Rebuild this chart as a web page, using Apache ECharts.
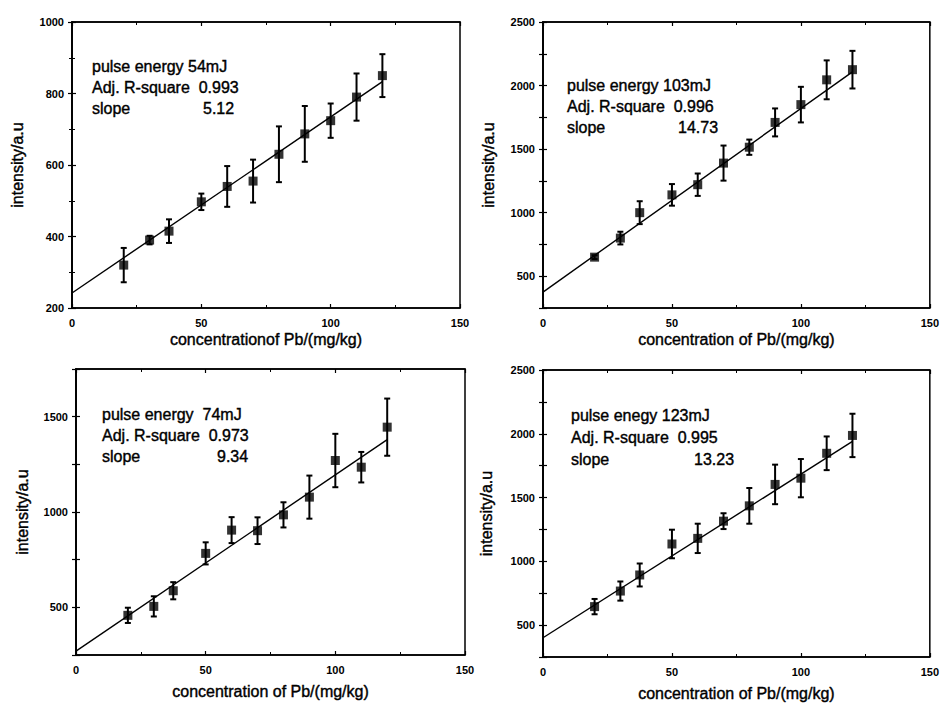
<!DOCTYPE html>
<html>
<head>
<meta charset="utf-8">
<script src="https://cdn.jsdelivr.net/npm/echarts@6/dist/echarts.min.js"></script>
<style>
html,body{margin:0;padding:0;background:#fff;}
#chart{width:942px;height:704px;}
</style>
</head>
<body>
<div id="chart"></div>
<script>
// ---- data ----
const xConc = [20, 30, 37.5, 50, 60, 70, 80, 90, 100, 110, 120];

const int54  = [320, 390, 415, 497, 540, 555, 630, 687, 724, 790, 850];
const err54  = [48, 12, 33, 23, 57, 60, 78, 78, 48, 66, 60];
const fit54  = [242, 833];

const int103 = [650, 800, 1000, 1140, 1220, 1390, 1515, 1710, 1850, 2045, 2125];
const err103 = [15, 50, 90, 85, 88, 138, 60, 110, 140, 153, 148];
const fit103 = [375, 2108];

const int74  = [458, 505, 587, 783, 905, 902, 985, 1078, 1270, 1235, 1445];
const err74  = [40, 53, 45, 58, 68, 70, 66, 113, 140, 80, 150];
const fit74  = [270, 1380];

const int123 = [645, 767, 893, 1136, 1180, 1315, 1435, 1603, 1652, 1847, 1987];
const err123 = [60, 75, 90, 112, 115, 62, 140, 155, 150, 132, 170];
const fit123 = [401, 1940];

const fitX = [0, 120];

const energyLabels = ['pulse energy 54mJ', 'pulse energy 103mJ', 'pulse energy  74mJ', 'pulse enegy 123mJ'];
const r2Labels     = ['Adj. R-square  0.993', 'Adj. R-square  0.996', 'Adj. R-square  0.973', 'Adj. R-square  0.995'];
const slopeLabels  = ['5.12', '14.73', '9.34', '13.23'];
const xTitles = ['concentrationof Pb/(mg/kg)', 'concentration of Pb/(mg/kg)', 'concentration of Pb/(mg/kg)', 'concentration of Pb/(mg/kg)'];
const yTitle = 'intensity/a.u';

// ---- layout ----
const panels = [
  {vals: int54,  errs: err54,  fit: fit54,  grid:{left:72, right:482, top:22,  bottom:396}, ymin:200, ymax:1000, yint:200, ymod:200, minor:true,  ygap:47, xgap:23, txt:{x:92,  y:[66,87,108],   vx:203}},
  {vals: int103, errs: err103, fit: fit103, grid:{left:543, right:10, top:22,  bottom:396}, ymin:250, ymax:2500, yint:250, ymod:500, minor:false, ygap:47, xgap:23, txt:{x:567, y:[85,106,127],  vx:678}},
  {vals: int74,  errs: err74,  fit: fit74,  grid:{left:76, right:477, top:369, bottom:49},  ymin:250, ymax:1750, yint:250, ymod:500, minor:false, ygap:46, xgap:28, txt:{x:102, y:[414,435,456], vx:217}},
  {vals: int123, errs: err123, fit: fit123, grid:{left:543, right:10, top:370, bottom:47},  ymin:250, ymax:2500, yint:250, ymod:500, minor:false, ygap:49, xgap:28, txt:{x:571, y:[415,437,459], vx:694}}
];

const FONT = 'Liberation Sans, Arial, sans-serif';
const grids = [], xAxes = [], yAxes = [], series = [], graphics = [];
const heavyName = {fontFamily:FONT, fontSize:16, color:'#000', textBorderColor:'#000', textBorderWidth:0.4};

panels.forEach((p, i) => {
  grids.push(Object.assign({show:true, borderColor:'#000', borderWidth:1.5, backgroundColor:'transparent'}, p.grid));
  const base = 2*i;
  // bottom x axis
  xAxes.push({
    type:'value', gridIndex:i, min:0, max:150, interval:50, position:'bottom',
    name: xTitles[i], nameLocation:'middle', nameGap:p.xgap,
    nameTextStyle: heavyName,
    axisLine:{show:true, lineStyle:{color:'#000', width:1.5}},
    axisTick:{show:true, inside:true, length:4, lineStyle:{color:'#000', width:1.2}},
    minorTick:{show:true, splitNumber:2, length:3, lineStyle:{color:'#000', width:1}},
    axisLabel:{fontFamily:FONT, fontSize:11, fontWeight:'bold', color:'#000', margin:9},
    splitLine:{show:false}
  });
  // top x axis (ticks only)
  xAxes.push({
    type:'value', gridIndex:i, min:0, max:150, interval:50, position:'top',
    axisLine:{show:true, lineStyle:{color:'#000', width:1.5}},
    axisTick:{show:true, inside:true, length:4, lineStyle:{color:'#000', width:1.2}},
    minorTick:{show:true, splitNumber:2, length:3, lineStyle:{color:'#000', width:1}},
    axisLabel:{show:false}, splitLine:{show:false}
  });
  const yCommon = {
    type:'value', gridIndex:i, min:p.ymin, max:p.ymax, interval:p.yint,
    axisLine:{show:true, lineStyle:{color:'#000', width:1.5}},
    axisTick:{show:true, inside:true, length:4, lineStyle:{color:'#000', width:1.2}},
    minorTick:{show:p.minor, splitNumber:2, length:3, lineStyle:{color:'#000', width:1}},
    splitLine:{show:false}
  };
  yAxes.push(Object.assign({}, yCommon, {
    position:'left',
    name: yTitle, nameLocation:'middle', nameGap:p.ygap, nameRotate:90,
    nameTextStyle: heavyName,
    axisLabel:{fontFamily:FONT, fontSize:11, fontWeight:'bold', color:'#000', margin:8,
      formatter: v => (v % p.ymod === 0 ? String(v) : '')}
  }));
  yAxes.push(Object.assign({}, yCommon, {position:'right', axisLabel:{show:false}}));

  // fit line
  series.push({
    type:'line', xAxisIndex:base, yAxisIndex:base, showSymbol:false, symbol:'none',
    data: fitX.map((x, k) => [x, p.fit[k]]),
    lineStyle:{color:'#000', width:1.4}, silent:true, z:2
  });
  // error bars
  series.push({
    type:'custom', xAxisIndex:base, yAxisIndex:base, z:3,
    data: xConc.map((x, k) => [x, p.vals[k] - p.errs[k], p.vals[k] + p.errs[k]]),
    encode:{x:0, y:[1,2]},
    renderItem: function(params, api){
      const x = api.value(0);
      const a = api.coord([x, api.value(1)]);
      const b = api.coord([x, api.value(2)]);
      const w = 3;
      const st = {stroke:'#000', lineWidth:2};
      return {type:'group', children:[
        {type:'line', shape:{x1:a[0], y1:a[1], x2:b[0], y2:b[1]}, style:st},
        {type:'line', shape:{x1:a[0]-w, y1:a[1], x2:a[0]+w, y2:a[1]}, style:st},
        {type:'line', shape:{x1:b[0]-w, y1:b[1], x2:b[0]+w, y2:b[1]}, style:st}
      ]};
    }
  });
  // points
  series.push({
    type:'scatter', xAxisIndex:base, yAxisIndex:base, z:4,
    symbol:'rect', symbolSize:9,
    itemStyle:{color:'#000'},
    data: xConc.map((x, k) => [x, p.vals[k]])
  });

  // annotations
  const tf = '16px ' + FONT;
  const st = {font:tf, fill:'#000', stroke:'#000', lineWidth:0.4, verticalAlign:'middle', align:'left'};
  [energyLabels[i], r2Labels[i], 'slope'].forEach((t, k) => {
    graphics.push({type:'text', x:p.txt.x, y:p.txt.y[k], style:Object.assign({text:t}, st)});
  });
  graphics.push({type:'text', x:p.txt.vx, y:p.txt.y[2], style:Object.assign({text:slopeLabels[i]}, st)});
});

const chart = echarts.init(document.getElementById('chart'), null, {renderer:'svg'});
chart.setOption({
  animation:false,
  backgroundColor:'#fff',
  grid: grids,
  xAxis: xAxes,
  yAxis: yAxes,
  series: series,
  graphic: graphics
});
</script>
</body>
</html>
